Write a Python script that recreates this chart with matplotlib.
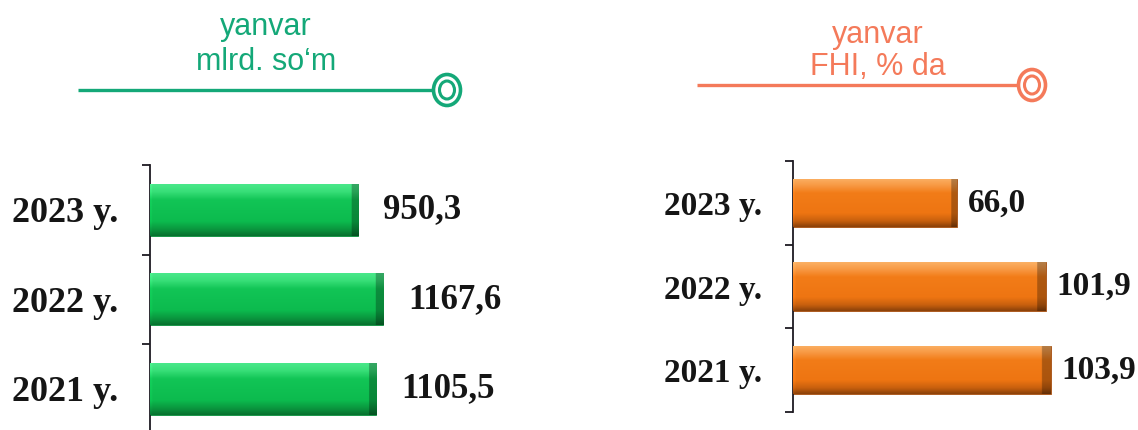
import numpy as np
import matplotlib
matplotlib.use("Agg")
import matplotlib.pyplot as plt
from matplotlib.patches import Ellipse
from matplotlib.colors import to_rgb

# ---------------- data ----------------
years = ["2021 y.", "2022 y.", "2023 y."]
values_left = [1105.5, 1167.6, 950.3]      # mlrd. so'm
labels_left = ["1105,5", "1167,6", "950,3"]
values_right = [103.9, 101.9, 66.0]        # FHI, % da
labels_right = ["103,9", "101,9", "66,0"]
title_left = ["yanvar", "mlrd. so\u2018m"]
title_right = ["yanvar", "FHI, % da"]

W, H = 1138, 430
fig = plt.figure(figsize=(W / 100, H / 100), dpi=100)
fig.patch.set_facecolor("white")

SERIF = ["Liberation Serif", "DejaVu Serif"]
SANS = ["Liberation Sans", "DejaVu Sans"]

GREEN_T = "#14a878"
ORANGE_T = "#f47a5a"


def px_axes(x0, y0, x1, y1):
    """axes rectangle from pixel box (top-left origin)"""
    return fig.add_axes([x0 / W, 1 - y1 / H, (x1 - x0) / W, (y1 - y0) / H])


def gradient_fill(ax, patches, stops):
    ny, nx = 64, 200
    pos = np.array([s[0] for s in stops])
    cols = np.array([to_rgb(s[1]) for s in stops])
    t = np.linspace(0, 1, ny)
    col = np.stack([np.interp(t, pos, cols[:, k]) for k in range(3)], axis=1)
    img = np.repeat(col[:, None, :], nx, axis=1)
    for p in patches:
        x, y, w, h = p.get_x(), p.get_y(), p.get_width(), p.get_height()
        im = img.copy()
        k = max(3, int(nx * 0.035))
        im[:, -k:, :] *= 0.72
        im[:, :2, :] = np.clip(im[:, :2, :] * 1.05, 0, 1)
        ai = ax.imshow(im, extent=(x, x + w, y, y + h), origin="upper",
                       aspect="auto", interpolation="bilinear", zorder=3)
        ai.set_clip_path(p)


def bar_panel(ax, vals, labs, base, xmax, stops, edge, offset_pt, ylabel_size,
              value_size, pad):
    ypos = np.arange(len(vals))
    bars = ax.barh(ypos, [v - base for v in vals], left=base, height=0.58,
                   color=stops[2][1], edgecolor=edge, linewidth=0.6, zorder=2)
    gradient_fill(ax, bars, stops)
    ax.set_xlim(base, xmax)
    ax.set_ylim(-0.5, len(vals) - 0.5)
    for sp in ["top", "right", "bottom"]:
        ax.spines[sp].set_visible(False)
    ax.spines["left"].set_color("#1e1a22")
    ax.spines["left"].set_linewidth(1.3)
    ax.set_xticks([])
    ax.set_yticks(np.arange(len(vals) + 1) - 0.5)
    ax.set_yticklabels([])
    ax.tick_params(axis="y", which="major", direction="out", length=6,
                   width=1.3, color="#1e1a22")
    ax.set_yticks(ypos, minor=True)
    ax.set_yticklabels(years, minor=True, fontfamily=SERIF, fontweight="bold",
                       fontsize=ylabel_size, color="#151515")
    ax.tick_params(axis="y", which="minor", length=0, pad=pad)
    ticks = ax.yaxis.get_major_ticks()
    ticks[-1].tick1line.set_color("#7a5a8a")
    ax.set_facecolor("none")
    for v, s, yy in zip(vals, labs, ypos):
        ax.annotate(s, (v, yy), xytext=(offset_pt, 0), textcoords="offset points",
                    ha="left", va="center", fontfamily=SERIF, fontweight="bold",
                    fontsize=value_size, color="#151515", annotation_clip=False)


green_stops = [(0.0, "#49e88a"), (0.14, "#38df78"), (0.30, "#12c556"),
               (0.72, "#0cbb4e"), (0.88, "#0a953e"), (1.0, "#07722f")]
orange_stops = [(0.0, "#fbb064"), (0.14, "#f89a45"), (0.30, "#f27c18"),
                (0.72, "#ee7512"), (0.88, "#c8600e"), (1.0, "#8c420a")]

# left panel: axis at x=150, category boundaries 165..433.5 px
axL = px_axes(150, 165, 500, 433.5)
bar_panel(axL, values_left, labels_left, base=-860, xmax=-860 + 350 / 0.115,
          stops=green_stops, edge="#0a8a3a", offset_pt=18, ylabel_size=26,
          value_size=25, pad=23)

# right panel: axis at x=793, boundaries 161..412 px
axR = px_axes(793, 161, 1100, 412)
bar_panel(axR, values_right, labels_right, base=0, xmax=307 / 2.48,
          stops=orange_stops, edge="#a04c10", offset_pt=8, ylabel_size=24,
          value_size=24, pad=22)

# ---------------- header decorations (pixel overlay) ----------------
ov = fig.add_axes([0, 0, 1, 1], zorder=-1)
ov.set_xlim(0, W)
ov.set_ylim(H, 0)
ov.axis("off")


def header(lines, cx, baselines, color, x0, x1, ly, rx):
    for t, b in zip(lines, baselines):
        ov.text(cx, b, t, ha="center", va="baseline", fontfamily=SANS,
                fontsize=22, color=color)
    ov.plot([x0, x1], [ly, ly], color=color, lw=2.4, solid_capstyle="butt")
    ov.add_patch(Ellipse((rx, ly), 27, 31, fill=False, ec=color, lw=2.6))
    ov.add_patch(Ellipse((rx, ly), 15, 18, fill=False, ec=color, lw=2.2))


header(title_left, 266, [35, 70], GREEN_T, 78, 433, 90, 447)
header(title_right, 878, [43, 75], ORANGE_T, 697, 1018, 85, 1032)

fig.savefig("out.png", dpi=100, facecolor="white")
